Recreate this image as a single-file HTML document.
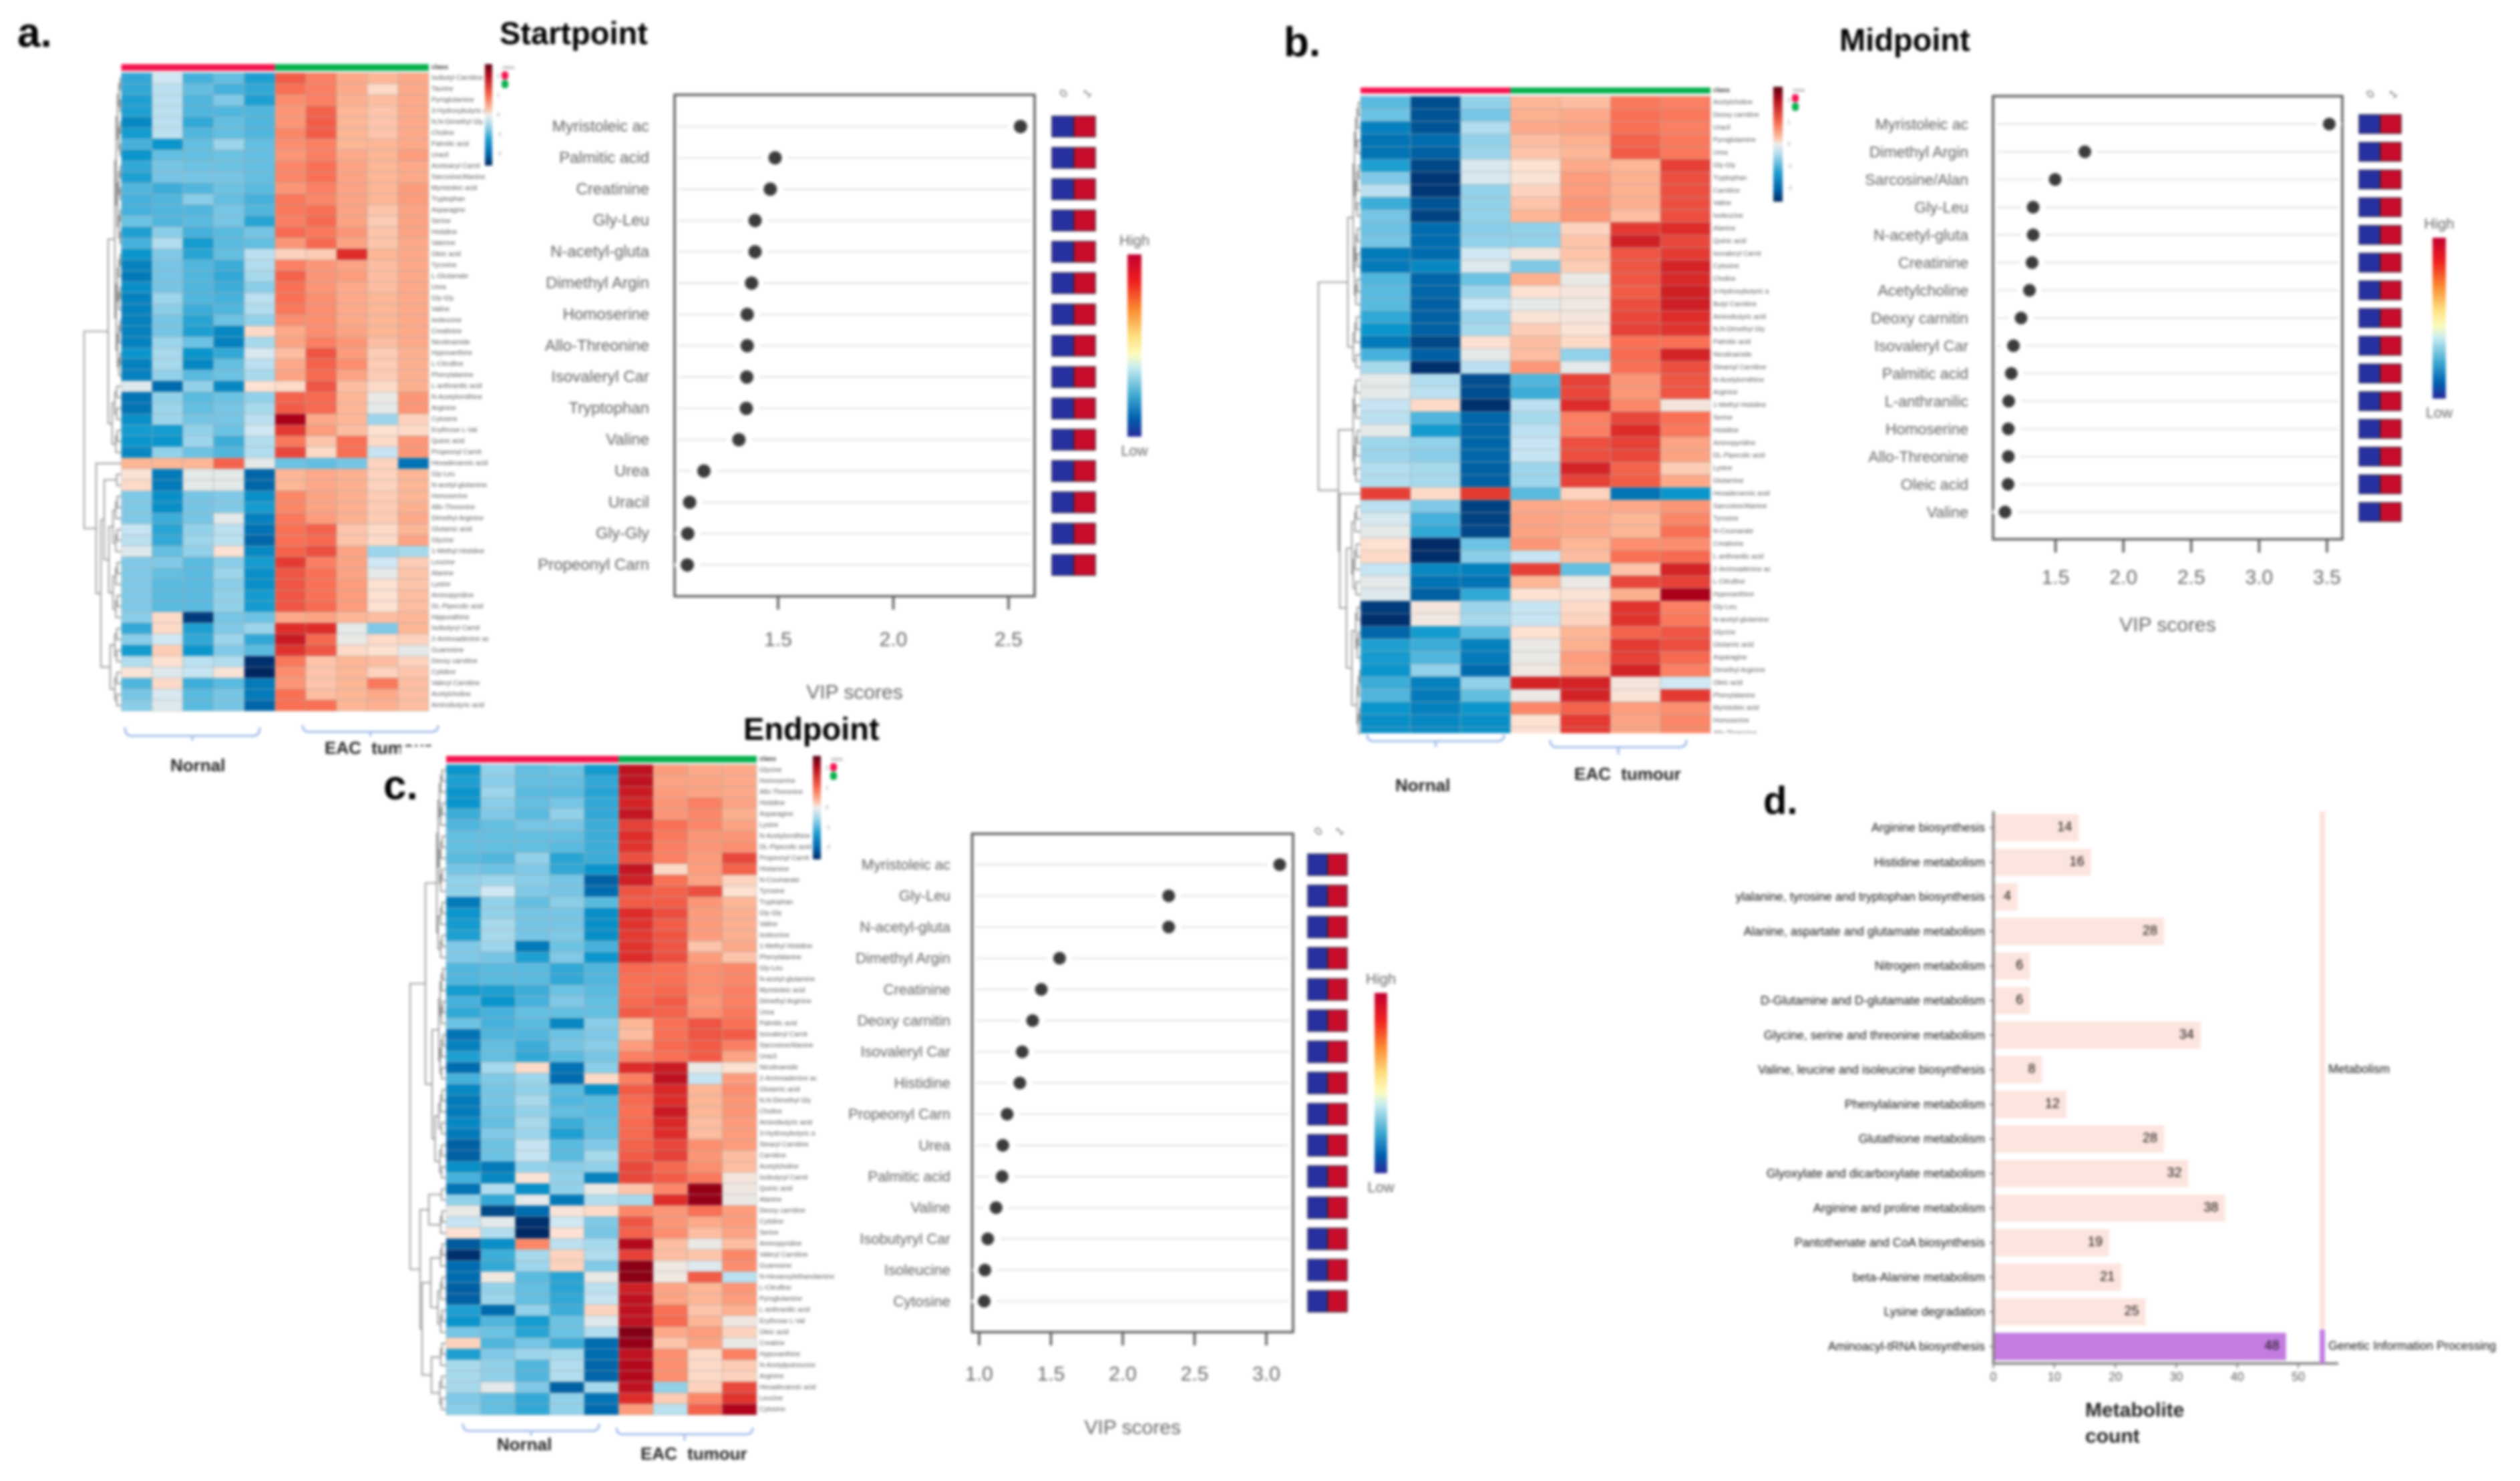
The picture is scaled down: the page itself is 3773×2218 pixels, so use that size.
<!DOCTYPE html>
<html lang="en">
<head>
<meta charset="utf-8">
<title>Metabolite heatmaps, VIP scores and pathway counts</title>
<style>
html,body{margin:0;padding:0;background:#fff;}
svg{display:block;filter:blur(2.1px);font-family:"Liberation Sans",sans-serif;}
.head{font-weight:700;fill:#000;}
</style>
</head>
<body>
<svg id="fig" xmlns="http://www.w3.org/2000/svg" width="3773" height="2218" viewBox="0 0 3773 2218">
<defs>
<linearGradient id="heatGrad" x1="0" y1="0" x2="0" y2="1">
<stop offset="0" stop-color="#5a0010"/><stop offset=".12" stop-color="#b80f20"/><stop offset=".3" stop-color="#f4664a"/><stop offset=".45" stop-color="#fdc5a8"/><stop offset=".5" stop-color="#eeeeee"/><stop offset=".6" stop-color="#a6d6ea"/><stop offset=".75" stop-color="#1e9cce"/><stop offset=".9" stop-color="#0060a8"/><stop offset="1" stop-color="#00285c"/>
</linearGradient>
<linearGradient id="vipGrad" x1="0" y1="0" x2="0" y2="1">
<stop offset="0" stop-color="#c00030"/><stop offset=".15" stop-color="#f02020"/><stop offset=".3" stop-color="#fb8a30"/><stop offset=".45" stop-color="#fde080"/><stop offset=".55" stop-color="#fdfcc0"/><stop offset=".62" stop-color="#c8ecf0"/><stop offset=".78" stop-color="#3aa6d0"/><stop offset=".9" stop-color="#0060b0"/><stop offset="1" stop-color="#2a2a9a"/>
</linearGradient>
<clipPath id="clipB"><rect x="2030" y="140" width="700" height="958"/></clipPath>
</defs>
<rect x="0" y="0" width="3773" height="2218" fill="#fff"/>
<g id="panelA"></g>
<g id="panelB"></g>
<rect x="600" y="1118" width="110" height="24" fill="#fff"/>
<g id="panelC"></g>
<g id="panelD"></g>
<text class="head" x="26" y="70" font-size="62">a.</text>
<text class="head" x="1922" y="84" font-size="62">b.</text>
<text class="head" x="574" y="1197" font-size="62">c.</text>
<text class="head" x="2640" y="1219" font-size="58">d.</text>
<text class="head" x="748" y="66" font-size="47">Startpoint</text>
<text class="head" x="2754" y="76" font-size="47">Midpoint</text>
<text class="head" x="1113" y="1108" font-size="47">Endpoint</text>
</svg>
<script>
/* ---------- Heatmap data (rows of z-scores) ---------- */
const heatRowsA = [
[-2,-.4,-1.8,-1.5,-2.2,2.3,1.8,1.2,1,1.2],[-2,-.6,-1.5,-1.8,-2,2,1.8,1.2,.5,1.2],[-2.2,-.6,-1.7,-1.2,-2.2,1.6,1.8,1.1,.9,1.2],
[-2.2,-.6,-1.7,-1.7,-1.7,1.5,2.2,1,.8,1.2],[-2.6,-.6,-2,-1.5,-1.7,1.5,2.3,1,.8,1.2],[-2.3,-.6,-1.7,-1.5,-1.7,1.7,2.3,1,.8,1.2],
[-1.8,-2.4,-1.5,-.9,-1.5,1.6,1.8,1,1,1.2],[-2.4,-1.5,-1.5,-1.4,-1.5,1.5,1.8,1.2,1,1.4],[-2,-1.3,-1.4,-1.4,-1.5,1.7,2,1.3,1,1.2],
[-2.2,-1.3,-1.3,-1.3,-1.5,1.7,2,1.3,1,1.2],[-1.7,-1.9,-1.7,-1.4,-1.6,1.5,1.8,1.3,1,1.4],[-1.8,-1.7,-1.1,-1.5,-1.8,1.9,1.7,1.3,1,1.4],
[-1.8,-1.7,-1.7,-1.3,-1.7,1.9,2,1.3,.8,1.3],[-1.4,-1.7,-1.6,-1.3,-2.1,1.8,2.1,1.3,.7,1.3],[-2.2,-1.1,-1.8,-1.6,-1.3,2.1,1.9,1.5,.8,1.3],
[-1.8,-.7,-2.3,-1.6,-1.5,1.5,2.1,1.3,.8,1.2],[-2.4,-1.2,-2.1,-1.5,-.6,.6,.7,3,1,1.2],[-2.7,-1.3,-1.7,-1.9,-.7,1.8,1.5,1.3,.9,1.2],
[-2.8,-1.3,-1.7,-2,-.8,2.2,1.5,1.4,.9,1.2],[-2.5,-1.3,-1.7,-1.9,-1.1,2,1.5,1.2,.9,1.2],[-2.7,-.9,-1.7,-1.8,-.6,2,1.6,1.2,1,1.2],
[-2.7,-1.1,-1.9,-1.7,-.7,1.9,1.6,1.2,1,1.2],[-2.7,-1.3,-2.1,-1.4,-1,1.6,1.6,1.2,1,1.2],[-2.7,-1.3,-2.2,-2.6,.5,1.2,1.6,1.3,1,1.2],
[-2.7,-.9,-1.4,-2.7,-.8,1.3,1.8,1.5,.9,1.2],[-2.4,-.8,-2.4,-2,-.3,.9,2.4,1.4,.7,1.1],[-2.7,-.8,-2.6,-1.5,-.6,1.2,2.2,1.6,.7,1.1],
[-2.7,-1,-1.6,-1.4,-.8,1.3,2.1,1.3,.7,1.1],[-.2,-3,-1,-2.6,.4,.5,2.4,.9,.5,1.1],[-2.9,-1,-1.6,-1.4,-1,2.2,2.1,1,0,1.5],
[-2.9,-.9,-1.5,-1.3,-.8,2.3,2.1,1,-.1,1.5],[-2.5,-.9,-1.3,-1.3,-.6,4,1.2,1,-.9,.6],[-2.3,-2.3,-1,-1.4,-.4,2.8,1.4,.9,.4,.5],
[-2.4,-2.4,-.9,-1.9,-.7,1.9,.8,2,.5,1.5],[-2.6,-1,-1.4,-1.7,-.7,2.6,.5,2,-.5,1.5],[1,1,1,2.2,-.1,-1.4,-1.5,-1.3,.6,-2.9],
[.3,-2.8,-.1,-.1,-3.1,1,1.2,1.1,.6,1],[.5,-2.8,-.1,-.1,-3.1,1,1.2,1.1,.6,1],[-1.2,-2.5,-1.3,-1.2,-2.5,1.7,1.3,1.1,.7,1],
[-1.2,-2.5,-1.3,-1.2,-2.3,1.7,1.3,1.1,.7,1.1],[-1.2,-1.9,-1.3,-.1,-2.7,1.9,1.4,1.1,.7,1.2],[-.5,-2.1,-1,-.6,-2.9,2,2.2,.8,.5,1],
[-.6,-2,-.9,-.6,-3.1,2,2.1,.8,.5,1.3],[-.2,-1.5,-1,.4,-2.6,2.2,2.5,1.3,-.9,-.8],[-1.2,-1.2,-1.6,-1.1,-2.3,2.8,1.8,1.3,-.4,.7],
[-1.2,-1.5,-1.6,-.9,-2.5,2.4,2,1.3,-.1,.8],[-1.2,-1.6,-1.6,-1.1,-2.5,2.4,2,1.4,.4,.8],[-1.2,-1.6,-1.6,-1,-2.3,2.4,2,1.4,.4,.9],
[-1.2,-1.6,-1.6,-1,-2.3,2.4,2.1,1.4,.4,.9],[-1.1,.5,-3.8,-1.3,-1.4,1.2,1.3,1,.9,1],[-2,.5,-2.2,-1.2,-.9,3,3,-.1,-1.2,1],
[-1.1,-.4,-2,-.9,-2,3.4,2.1,0,.5,.6],[-2.3,.7,-2.4,-1.2,-1.6,2.9,2.4,.5,.4,-.1],[-.7,.4,-.6,-.7,-4,1.9,.8,1,.9,.6],
[.3,-.2,-.5,.3,-4.4,1.6,.8,1,.6,.8],[-1.7,.5,-1.9,-1.6,-2.8,1.5,.8,1,1.9,.9],[-1.3,-.3,-1.6,-1.3,-2.8,2,.9,1,1.2,.9],
[-1.1,-.2,-1.6,-1.3,-3.1,2,2,1,1.1,.9]
];
const heatRowsB = [
[-1.6,-3.5,-1,1,.9,1.9,1.8],[-1.4,-3.4,-1.3,1.1,1.2,2,1.9],[-2.7,-3.4,-.7,1.2,1.3,2,1.8],[-2.9,-3,-1,.9,1.1,2.2,1.9],
[-2.9,-3.2,-.9,.8,1,2.3,1.9],[-2.2,-3.6,-.3,.4,1.2,1,2.7],[-1.2,-3.9,-.3,.3,1.4,1.1,2.5],[-.6,-3.9,-1,.6,1.4,1.1,2.5],
[-1.9,-3.4,-1,.8,1.5,1.1,2.5],[-1.3,-3.7,-1,1,1.5,.9,2.5],[-1.4,-3,-1.1,-1,.6,2.8,3],[-1.3,-3,-1,-1,.8,3.3,2.6],
[-2.8,-3,-.4,.2,.8,2.4,2.8],[-2.8,-2.6,-.2,-1.2,.7,2.4,3.2],[-1.7,-3.1,-1.4,1.1,0,2.4,3.1],[-1.6,-3.1,-.9,.4,.2,2.3,3.3],
[-1.6,-3.2,-.5,-.1,.1,2.5,3.3],[-2,-3.2,-.9,.3,.2,2.6,3],[-2.4,-3.2,-.8,.7,.3,2.7,2.9],[-2.8,-3.6,.4,.9,.5,2,2],
[-1.8,-3.2,-.1,.9,-1,2.1,3.2],[-.8,-4,-.6,1.5,-.1,2,2.5],[-.1,-.7,-3.5,-1.7,2.7,1.5,2.4],[-.1,-.6,-3.5,-1.9,2.6,1.5,2.4],
[-.5,.5,-4,-.6,3,1.7,.2],[-.6,-1.7,-3.1,-.8,1.8,2.6,2],[-.1,-2.3,-3.1,-.6,1.8,3,1.9],[-.9,-1,-3.1,-.5,2.5,2.7,1.3],
[-.9,-1.1,-3.1,-.5,2.5,2.6,1.3],[-.7,-.8,-3.2,-.9,3.2,2.2,.7],[-.7,-.8,-3.2,-.9,2.7,2.3,1.2],[2.7,.5,2.8,-1.6,.6,-2.9,-2.4],
[-.6,-1.2,-3.7,1.2,1.2,1.2,1.5],[-.3,-1.8,-3.7,1.3,1.2,1,1.7],[-.1,-2,-3.6,1.3,1.2,1,2],[.4,-4.2,-1.4,1.5,1,1.6,1.6],
[.5,-4.1,-1.1,-.5,.9,2,2.1],[-.5,-2.6,-2.7,2.7,-1.5,.8,3.2],[-.1,-2.9,-2.9,1,0,2.6,2.7],[-.2,-3.2,-2,.4,.3,1.1,4],
[-3.8,.2,-.9,-.5,.5,2.9,1.8],[-4,.1,-.8,-.5,.6,2.9,1.9],[-3.1,-2.3,-1.6,.4,1,2.2,2.4],[-2.2,-1.9,-2.7,0,1.1,2.8,2.5],
[-2.3,-1.7,-2.8,0,1.4,2.7,2.1],[-2.4,-1,-3,.1,1.3,3.2,1.8],[-1.9,-2.7,-1,3.2,3.2,.2,-.4],[-1.7,-2.8,-1.5,0,3.2,.3,2.8],
[-2.4,-2.7,-2.4,1.7,2.2,1.4,1.6],[-2.5,-2.6,-2.5,.4,2.8,1.3,1.7],[-2.5,-2.6,-2.5,.4,2.8,1.3,1.7]
];
const heatRowsC = [
[-2.4,-1,-1.5,-1.4,-2.3,3.6,1.4,1.2,1.2],[-2.2,-1.1,-1.5,-1.5,-2,3.6,1.3,1.3,1.2],[-2.4,-.9,-1.6,-1.6,-2.1,3.4,1.4,1.3,1.2],
[-2.4,-1.1,-1.5,-1.3,-2,3.2,1.5,1.8,1.3],[-1.9,-1.2,-1.6,-1,-2,3.5,1.5,1.7,1.1],[-1.7,-1.5,-1.3,-1.3,-1.9,2.7,2,1.7,1.3],
[-1.5,-1.5,-1.5,-1.5,-1.9,3,1.9,1.5,1.5],[-1.5,-1.5,-1.5,-1.6,-1.9,2.9,1.8,1.5,1.6],[-1.6,-1.7,-1,-2.1,-1.9,2.5,1.8,1.4,2.6],
[-1.3,-1.4,-1.2,-2,-2.4,3.5,.5,1.4,2.2],[-1,-.9,-1.1,-1.3,-3.2,3.3,2,1.3,.6],[-1,-.4,-1.2,-1.3,-3,2.4,2.2,2.5,.4],
[-2.8,-1,-1.5,-1.1,-1.6,2.3,2.3,1.5,1],[-2.4,-1,-1.3,-1.3,-2.5,3,2.5,1.4,1.1],[-2.3,-.8,-1.3,-1.3,-2.5,2.9,2.3,1.4,1.1],
[-2.2,-.8,-1.3,-1.2,-2.5,2.8,2.4,1.4,1.1],[-1.2,-.9,-2.8,-1.4,-1.8,2.9,2.4,.8,1.2],[-1.2,-1.3,-2.2,-1.2,-2.4,3,2.5,1.4,.8],
[-1.7,-1.6,-1.6,-2,-1.7,2.1,2,1.6,1.7],[-1.7,-1.6,-1.6,-2,-1.7,2,2,1.6,1.7],[-2.3,-2.2,-1.9,-1.4,-1.6,2,2.1,1.6,1.8],
[-1.8,-2.4,-1.8,-1.2,-1.5,2.1,2.3,1.5,1.8],[-2,-1.8,-1.5,-1.5,-1.5,2.3,2.2,1.6,1.9],[-1.4,-1.8,-1.6,-2.6,-1.1,1,2,2.4,2],
[-2.9,-1.7,-1.7,-1.4,-1.2,.9,2,2.4,2.3],[-2.7,-1.5,-1.9,-1.3,-1.1,1.4,2.1,2.3,1.8],[-2.2,-1.5,-2,-1.6,-1.3,1.8,2,2.3,1.3],
[-3,-.8,.5,-2.9,-1.1,3,3.4,0,.4],[-1.8,-1.2,-.9,-3,.5,1.8,3.6,-.5,1.4],[-2.6,-1.3,-1,-1.6,-2.5,2.3,3.1,1,1.6],
[-2.8,-1.3,-.8,-1.7,-1.6,2.1,3,1,1.5],[-2.8,-1.4,-1,-1.5,-1.6,2,3.4,1,1.5],[-2.6,-1.5,-.8,-1.9,-1.5,2.1,3.1,.9,1.4],
[-2.8,-1.2,-.9,-2.2,-1.5,2.1,3,.9,1.4],[-3.2,-1.4,-.5,-1.6,-1.2,2.2,2.6,1.6,1.4],[-3.2,-1.4,-.5,-1.6,-.8,2.3,2.7,1.5,.9],
[-2.5,-2.8,-1,-1.1,-1,2.6,2.1,1.6,.9],[-1.8,-2.6,.3,-1,-2.7,2.6,2.3,1.9,.2],[-2.9,-.7,-2.5,-1,0,.8,1.7,4.2,.1],
[-1,-2,-.1,-2.8,-.7,-.8,3,4.2,0],[0,-3.6,-3,.3,.5,1.7,1.5,2,1.4],[-.5,-.1,-4,-.4,-1.2,2.4,1.5,1.2,1.4],
[.4,-.7,-4.3,.4,-1.3,2.2,1.6,.9,1.3],[-3.3,-2.5,1.7,-.6,-.8,3.8,.9,0,.9],[-4,-1.9,-.8,.6,-.7,2.7,.9,.8,1.7],
[-3,-2,-.9,.6,-1.2,4.3,.1,-.2,1.6],[-3,.1,-1.6,-2.1,0,4.3,.1,2.3,-.6],[-3.2,-1,-1.5,-2.1,-.6,3.3,1.3,1,1.5],
[-3.2,-.9,-1.5,-2,-.5,3.6,1.3,1,1.4],[-2.2,-3,-1,-1.9,.6,3.6,2,.8,1.1],[-2.4,-1.7,-2.3,-1.4,-.2,3.6,2.1,1,.1],
[-1.3,-1.4,-2.1,-1.4,-.7,4.4,1.2,1.4,.6],[.6,-1.7,-1.3,-1.9,-3,4.2,.8,1.3,0],[-2.2,-1.2,-.9,-.8,-3,3.6,1.6,.5,1.8],
[-.8,-1,-1.7,-.7,-3.1,3.8,1.6,.5,.7],[-.8,-1,-1.7,-.7,-3.1,3.8,1.6,.5,.6],[-.8,-.1,-1.2,-3.2,-.8,3.6,-1,.6,2.6],
[-1.2,-1.5,-2,-1,-2.9,3,.7,1.7,2.9],[-1.1,-1.5,-2,-1,-3,1.4,-.6,2.2,3.9]
];
const heatLabelsA = ["Isobutyl Carnitine","Taurine","Pyroglutamine","3-Hydroxybutyric a","N,N-Dimethyl Gly","Choline","Palmitic acid","Uracil","Acetoacyl Carnit","Sarcosine/Alanine","Myristoleic acid","Tryptophan","Asparagine","Serine","Histidine","Valerine","Oleic acid","Tyrosine","L-Glutamate","Urea","Gly-Gly","Valine","Isoleucine","Creatinine","Nicotinamide","Hypoxanthine","L-Citrulline","Phenylalanine","L-anthranilic acid","N-Acetylornithine","Arginine","Cytosine","Erythrose L-Val","Quinic acid","Propeonyl Carnit","Hexadecanoic acid","Gly-Leu","N-acetyl-glutamine","Homoserine","Allo-Threonine","Dimethyl Arginine","Glutamic acid","Glycine","1-Methyl Histidine","Leucine","Alanine","Lysine","Aminopyridine","DL-Pipecolic acid","Hippurathine","Isobutyryl Carnit","2-Aminoadenine ac","Guanosine","Deoxy carnitine","Cytidine","Valeryl Carnitine","Acetylcholine","Aminobutyric acid"];
const heatLabelsB = ["Acetylcholine","Deoxy carnitine","Uracil","Pyroglutamine","Urea","Gly-Gly","Tryptophan","Carnitine","Valine","Isoleucine","Alanine","Quinic acid","Isovaleryl Carnit","Cytosine","Choline","3-Hydroxybutyric a","Butyl Carnitine","Aminobutyric acid","N,N-Dimethyl Gly","Palmitic acid","Nicotinamide","Stearoyl Carnitine","N-Acetylornithine","Arginine","1-Methyl Histidine","Serine","Histidine","Aminopyridine","DL-Pipecolic acid","Lysine","Glutamine","Hexadecanoic acid","Sarcosine/Alanine","Tyrosine","N-Coumarate","Creatinine","L-anthranilic acid","2-Aminoadenine ac","L-Citrulline","Hypoxanthine","Gly-Leu","N-acetyl-glutamine","Glycine","Glutamic acid","Asparagine","Dimethyl Arginine","Oleic acid","Phenylalanine","Myristoleic acid","Homoserine","Allo-Threonine"];
const heatLabelsC = ["Glycine","Homoserine","Allo-Threonine","Histidine","Asparagine","Lysine","N-Acetylornithine","DL-Pipecolic acid","Propeonyl Carnit","Histamine","N-Coumarate","Tyrosine","Tryptophan","Gly-Gly","Valine","Isoleucine","1-Methyl Histidine","Phenylalanine","Gly-Leu","N-acetyl-glutamine","Myristoleic acid","Dimethyl Arginine","Urea","Palmitic acid","Isovaleryl Carnit","Sarcosine/Alanine","Uracil","Nicotinamide","2-Aminoadenine ac","Glutamic acid","N,N-Dimethyl Gly","Choline","Aminobutyric acid","3-Hydroxybutyric a","Stearyl Carnitine","Carnitine","Acetylcholine","Isobutyryl Carnit","Quinic acid","Alanine","Deoxy carnitine","Cytidine","Serine","Aminopyridine","Valeryl Carnitine","Guanosine","N-Hexanoylethanolamine","L-Citrulline","Pyroglutamine","L-anthranilic acid","Erythrose L-Val","Oleic acid","Creatine","Hypoxanthine","N-Acetylputrescine","Arginine","Hexadecanoic acid","Leucine","Cytosine"];
const heatScaleTicks = ["2","1","0","-1","-2"];

/* ---------- VIP score data ---------- */
const vipCatsA = ["Myristoleic ac","Palmitic acid","Creatinine","Gly-Leu","N-acetyl-gluta","Dimethyl Argin","Homoserine","Allo-Threonine","Isovaleryl Car","Tryptophan","Valine","Urea","Uracil","Gly-Gly","Propeonyl Carn"];
const vipValsA = [2.552,1.487,1.466,1.40,1.40,1.385,1.366,1.366,1.364,1.362,1.33,1.178,1.116,1.108,1.106];
const vipTicksA = [1.5,2.0,2.5];
const vipCatsB = ["Myristoleic ac","Dimethyl Argin","Sarcosine/Alan","Gly-Leu","N-acetyl-gluta","Creatinine","Acetylcholine","Deoxy carnitin","Isovaleryl Car","Palmitic acid","L-anthranilic ","Homoserine","Allo-Threonine","Oleic acid","Valine"];
const vipValsB = [3.517,1.716,1.497,1.335,1.335,1.327,1.308,1.246,1.19,1.174,1.155,1.152,1.152,1.15,1.128];
const vipTicksB = [1.5,2.0,2.5,3.0,3.5];
const vipCatsC = ["Myristoleic ac","Gly-Leu","N-acetyl-gluta","Dimethyl Argin","Creatinine","Deoxy carnitin","Isovaleryl Car","Histidine","Propeonyl Carn","Urea","Palmitic acid","Valine","Isobutyryl Car","Isoleucine","Cytosine"];
const vipValsC = [3.093,2.32,2.32,1.56,1.433,1.372,1.30,1.283,1.195,1.165,1.16,1.118,1.06,1.04,1.035];
const vipTicksC = [1.0,1.5,2.0,2.5,3.0];

/* ---------- Pathway bar data ---------- */
const pathwayCats = ["Arginine biosynthesis","Histidine metabolism","ylalanine, tyrosine and tryptophan biosynthesis","Alanine, aspartate and glutamate metabolism","Nitrogen metabolism","D-Glutamine and D-glutamate metabolism","Glycine, serine and threonine metabolism","Valine, leucine and isoleucine biosynthesis","Phenylalanine metabolism","Glutathione metabolism","Glyoxylate and dicarboxylate metabolism","Arginine and proline metabolism","Pantothenate and CoA biosynthesis","beta-Alanine metabolism","Lysine degradation","Aminoacyl-tRNA biosynthesis"];
const pathwayCounts = [14,16,4,28,6,6,34,8,12,28,32,38,19,21,25,48];
const pathwayGroups = [0,0,0,0,0,0,0,0,0,0,0,0,0,0,0,1];
const pathwayTicks = [0,10,20,30,40,50];

/* ---------- Helpers ---------- */
const NS = "http://www.w3.org/2000/svg";
function mk(parent, tag, attrs, name) {
  const el = document.createElementNS(NS, tag);
  for (const k in attrs) el.setAttribute(k, attrs[k]);
  
  
  parent.appendChild(el);
  return el;
}
function txt(parent, x, y, s, size, anchor, fill, weight, name) {
  const el = mk(parent, 'text', {x: x, y: y, 'font-size': size, 'text-anchor': anchor, fill: fill, 'font-weight': weight, 'dominant-baseline': 'central'}, name);
  el.textContent = s;
  return el;
}
function linear(d0, r0, d1, r1) { return v => r0 + (v - d0) * (r1 - r0) / (d1 - d0); }
const colorStops = [[-4.5,[0,36,92]],[-4,[0,48,110]],[-3,[0,108,176]],[-2.4,[10,150,205]],[-1.7,[80,182,222]],[-1,[146,209,234]],[-.4,[208,232,243]],[0,[235,233,230]],[.4,[253,225,210]],[1,[253,182,150]],[1.5,[252,150,118]],[2,[250,112,84]],[3,[222,44,42]],[4,[170,0,25]],[4.5,[120,0,20]]];
function heatColor(v) {
  for (let i = 1; i < colorStops.length; i++) {
    if (v <= colorStops[i][0]) {
      const a = colorStops[i-1], b = colorStops[i], t = Math.max(0, (v - a[0]) / (b[0] - a[0]));
      return 'rgb(' + a[1].map((c, j) => Math.round(c + (b[1][j] - c) * t)).join(',') + ')';
    }
  }
  return 'rgb(120,0,20)';
}
/* dendrogram: node = [x, childA, childB]; a number = count of consecutive rows */
function dendro(g, node, left, rowY, state, parentX) {
  let cA, cB, x;
  if (typeof node === 'number') {
    if (node === 1) { const y = rowY(state.i + .5); state.i++; return {x: left, y: y}; }
    const n1 = Math.ceil(node / 2);
    x = left - Math.min(left - parentX - 2, 4 + node * 1.4);
    cA = dendro(g, n1, left, rowY, state, x);
    cB = dendro(g, node - n1, left, rowY, state, x);
  } else {
    x = node[0];
    cA = dendro(g, node[1], left, rowY, state, x);
    cB = dendro(g, node[2], left, rowY, state, x);
  }
  mk(g, 'path', {d: 'M' + cA.x + ' ' + cA.y + 'H' + x + 'V' + cB.y + 'H' + cB.x, fill: 'none', stroke: '#8a8a8a', 'stroke-width': 1.8}, 'dendrogram-branch');
  return {x: x, y: (cA.y + cB.y) / 2};
}
function brace(g, x0, x1, top, line, tip, name) {
  const mid = (x0 + x1) / 2;
  mk(g, 'path', {d: 'M' + x0 + ' ' + top + 'Q' + x0 + ' ' + line + ' ' + (x0 + 10) + ' ' + line + 'H' + (x1 - 10) + 'Q' + x1 + ' ' + line + ' ' + x1 + ' ' + top + 'M' + mid + ' ' + line + 'V' + tip, fill: 'none', stroke: '#9db9ea', 'stroke-width': 3}, name);
}
function heatmap(g, o, rows, labels, tree) {
  const nCols = rows[0].length, cw = (o.x1 - o.x0) / nCols;
  const splitX = o.x0 + o.normalCols * cw;
  const colX = linear(0, o.x0, nCols, o.x1);
  const rowY = linear(0, o.y0, 1, o.y0 + o.rowH);
  const hg = mk(g, 'g', o.clip ? {'clip-path': 'url(#' + o.clip + ')'} : {}, 'heatmap-body');
  rows.forEach((row, r) => {
    row.forEach((v, c) => {
      const cell = mk(hg, 'rect', {x: colX(c), y: rowY(r), width: cw, height: o.rowH, fill: heatColor(v), stroke: '#a9a9a9', 'stroke-width': .8, 'stroke-opacity': .75}, 'heatmap-cell');
    });
    txt(hg, o.x1 + 4, rowY(r + .5), labels[r], o.labelSize, 'start', '#555', 400, 'heatmap-row-label');
  });
  mk(g, 'rect', {x: o.x0, y: o.barY, width: splitX - o.x0, height: o.barH, fill: '#f5134e'}, 'class-bar-normal');
  mk(g, 'rect', {x: splitX, y: o.barY, width: o.x1 - splitX, height: o.barH, fill: '#05b04c'}, 'class-bar-tumour');
  txt(g, o.x1 + 4, o.barY + o.barH / 2, 'class', o.labelSize, 'start', '#333', 700, 'class-bar-label');
  const dg = mk(g, 'g', {}, 'dendrogram');
  dendro(dg, tree, o.x0, rowY, {i: 0}, tree[0]);
  /* colour scale + class legend */
  mk(g, 'rect', {x: o.cbX, y: o.cbY, width: o.cbW, height: o.cbH, fill: 'url(#heatGrad)'}, 'heatmap-colorbar');
  heatScaleTicks.forEach((t, i) => {
    txt(g, o.cbX + o.cbW + 7, o.cbY + o.cbH * (.12 + i * .19), t, 8, 'start', '#888', 400, 'colorbar-tick');
  });
  txt(g, o.cbX + o.cbW + 15, o.cbY + 5, 'class', 8, 'start', '#777', 400, 'class-legend-title');
  mk(g, 'rect', {x: o.cbX + o.cbW + 14, y: o.cbY + 11, width: 10, height: 12, rx: 4, fill: '#f5134e'}, 'class-legend-normal');
  mk(g, 'rect', {x: o.cbX + o.cbW + 14, y: o.cbY + 24, width: 10, height: 12, rx: 4, fill: '#05b04c'}, 'class-legend-tumour');
  brace(g, o.b1[0], o.b1[1], o.b1[2], o.b1[3], o.b1[4], 'brace-normal');
  brace(g, o.b2[0], o.b2[1], o.b2[2], o.b2[3], o.b2[4], 'brace-tumour');
  txt(g, o.nLab[0], o.nLab[1], 'Nornal', 26, 'start', '#222', 700, 'group-label-normal');
  const eac = txt(g, o.eLab[0], o.eLab[1], 'EAC tumour', 26, 'start', '#222', 700, 'group-label-tumour');
  eac.setAttribute('word-spacing', '8');
}
function vipPlot(g, o, cats, vals, ticks) {
  const x = linear(o.d0, o.r0, o.d1, o.r1);
  const y = linear(0, o.rowY0, 1, o.rowY0 + o.rowStep);
  mk(g, 'rect', {x: o.left, y: o.top, width: o.right - o.left, height: o.bottom - o.top, fill: '#fff', stroke: '#5a5a5a', 'stroke-width': 3.5}, 'plot-frame');
  cats.forEach((c, i) => {
    mk(g, 'line', {x1: o.left + 6, x2: o.right - 6, y1: y(i), y2: y(i), stroke: '#e2e2e2', 'stroke-width': 2.4}, 'vip-guide-line');
    mk(g, 'rect', {x: x(vals[i]) - o.r - 9, y: y(i) - 3, width: 2 * o.r + 18, height: 6, fill: '#fff'}, 'vip-dot-halo');
    mk(g, 'circle', {cx: x(vals[i]), cy: y(i), r: o.r, fill: '#3b3b3b'}, 'vip-dot');
    txt(g, o.labRight, y(i), c, o.labSize, 'end', '#5e5e5e', 400, 'vip-category-label');
    mk(g, 'rect', {x: o.sq0, y: y(i) - o.sqH / 2, width: o.sqW, height: o.sqH, fill: '#2730a0', stroke: '#2b2b50', 'stroke-width': 1.5}, 'class-0-square');
    mk(g, 'rect', {x: o.sq0 + o.sqW + 1, y: y(i) - o.sqH / 2, width: o.sqW, height: o.sqH, fill: '#c80c2c', stroke: '#4a2030', 'stroke-width': 1.5}, 'class-1-square');
  });
  ticks.forEach(t => {
    mk(g, 'line', {x1: x(t), x2: x(t), y1: o.bottom, y2: o.bottom + 20, stroke: '#5a5a5a', 'stroke-width': 3.5}, 'x-axis-tick');
    txt(g, x(t), o.tickY, t.toFixed(1), 30, 'middle', '#666', 400, 'x-axis-tick-label');
  });
  txt(g, (o.left + o.right) / 2, o.titleY, 'VIP scores', 30, 'middle', '#666', 400, 'x-axis-title');
  const l0 = txt(g, o.sq0 + o.sqW * .55, o.sqLabY, '0', 17, 'middle', '#666', 400, 'class-0-label');
  l0.setAttribute('transform', 'rotate(-45 ' + (o.sq0 + o.sqW * .55) + ' ' + o.sqLabY + ')');
  const l1 = txt(g, o.sq0 + o.sqW * 1.65, o.sqLabY, '1', 17, 'middle', '#666', 400, 'class-1-label');
  l1.setAttribute('transform', 'rotate(-45 ' + (o.sq0 + o.sqW * 1.65) + ' ' + o.sqLabY + ')');
  mk(g, 'rect', {x: o.csX, y: o.csY, width: o.csW, height: o.csH, fill: 'url(#vipGrad)'}, 'vip-color-scale');
  txt(g, o.csX + o.csW / 2, o.csY - 21, 'High', 22, 'middle', '#666', 400, 'vip-scale-high');
  txt(g, o.csX + o.csW / 2, o.csY + o.csH + 21, 'Low', 22, 'middle', '#666', 400, 'vip-scale-low');
}

/* ---------- Panels ---------- */
const gA = document.getElementById('panelA'), gB = document.getElementById('panelB'), gC = document.getElementById('panelC'), gD = document.getElementById('panelD');

heatmap(gA, {x0:181.6,x1:642,y0:109,rowH:16.48,normalCols:5,barY:96,barH:10,labelSize:10,cbX:726,cbY:96,cbW:11,cbH:152,
  b1:[187,389,1089,1102,1109], b2:[453,656,1086,1096,1103], nLab:[255,1146], eLab:[486,1120]}, heatRowsA, heatLabelsA,
  [126,[162,[172,16,12],7],[144,1,[151,[156,2,[163,6,6]],[165,4,4]]]]);
heatmap(gB, {x0:2037,x1:2561,y0:144,rowH:18.9,normalCols:3,barY:131,barH:9,labelSize:10,clip:'clipB',cbX:2655,cbY:130,cbW:14,cbH:172,
  b1:[2047,2252,1100,1110,1119], b2:[2321,2525,1108,1119,1130], nLab:[2089,1176], eLab:[2357,1159]}, heatRowsB, heatLabelsB,
  [1974,[2018,[2026,10,7],5],[2004,[2026,4,5],[2006,1,[2016,[2024,3,5],[2024,[2030,2,3],[2032,3,3]]]]]]);
heatmap(gC, {x0:668,x1:1133,y0:1145,rowH:16.51,normalCols:5,barY:1132,barH:10,labelSize:10,cbX:1217,cbY:1132,cbW:12,cbH:155,
  b1:[693,897,2132,2143,2150], b2:[923,1127,2138,2148,2158], nLab:[744,2163], eLab:[959,2177]}, heatRowsC, heatLabelsC,
  [614,[637,[654,12,6],[647,[657,6,5],9]],[629,[642,2,3],[632,[645,3,6],[646,3,4]]]]);

vipPlot(gA, {d0:1.5,r0:1165,d1:2.5,r1:1510,left:1010,right:1549,top:142,bottom:893,rowY0:189.5,rowStep:46.9,r:10,labRight:972,labSize:24,
  tickY:958,titleY:1037,sq0:1575,sqW:32,sqH:31,sqLabY:140,csX:1688,csY:381,csW:21,csH:273}, vipCatsA, vipValsA, vipTicksA);
vipPlot(gB, {d0:1.5,r0:3077.6,d1:3.5,r1:3484,left:2984,right:3507,top:144,bottom:807.6,rowY0:185.8,rowStep:41.5,r:9.5,labRight:2947,labSize:23,
  tickY:865,titleY:936,sq0:3532,sqW:31,sqH:28,sqLabY:141,csX:3642,csY:356,csW:20,csH:241}, vipCatsB, vipValsB, vipTicksB);
vipPlot(gC, {d0:1.0,r0:1466,d1:3.0,r1:1896,left:1455.5,right:1936,top:1248.7,bottom:1995,rowY0:1295,rowStep:46.7,r:9.5,labRight:1423,labSize:22,
  tickY:2058,titleY:2138,sq0:1958,sqW:29,sqH:32,sqLabY:1245,csX:2058,csY:1487,csW:19,csH:270}, vipCatsC, vipValsC, vipTicksC);

/* panel d: pathway bars */
const barX = linear(0, 2984.5, 50, 3441);
const barY = linear(0, 1239.5, 1, 1291.3);
const groupFill = ['#fde5df', '#c37ce0'];
pathwayCats.forEach((c, i) => {
  mk(gD, 'rect', {x: barX(0), y: barY(i) - 20.5, width: barX(pathwayCounts[i]) - barX(0), height: 41, fill: groupFill[pathwayGroups[i]]}, 'pathway-bar');
  txt(gD, barX(pathwayCounts[i]) - 10, barY(i) - 1, String(pathwayCounts[i]), 20, 'end', '#111', 400, 'pathway-bar-value');
  txt(gD, 2972, barY(i), c, 18, 'end', '#111', 400, 'pathway-label');
  mk(gD, 'line', {x1: 2979, x2: 2984, y1: barY(i), y2: barY(i), stroke: '#777', 'stroke-width': 2}, 'pathway-tick');
});
mk(gD, 'line', {x1: 2984.5, x2: 2984.5, y1: 1215, y2: 2042, stroke: '#7a7a7a', 'stroke-width': 3.5}, 'y-axis-line');
mk(gD, 'line', {x1: 2983, x2: 3501, y1: 2042, y2: 2042, stroke: '#7a7a7a', 'stroke-width': 3.5}, 'x-axis-line');
pathwayTicks.forEach(t => {
  mk(gD, 'line', {x1: barX(t), x2: barX(t), y1: 2042, y2: 2049, stroke: '#7a7a7a', 'stroke-width': 2}, 'x-axis-tick');
  txt(gD, barX(t), 2062, String(t), 18, 'middle', '#555', 400, 'x-axis-tick-label');
});
mk(gD, 'rect', {x: 3473, y: 1215, width: 8, height: 774, fill: '#fde0d8'}, 'group-strip-metabolism');
mk(gD, 'rect', {x: 3473, y: 1991, width: 8, height: 51, fill: '#c37ce0'}, 'group-strip-genetic');
txt(gD, 3486, 1601, 'Metabolism', 18, 'start', '#111', 400, 'group-label-metabolism');
txt(gD, 3486, 2015.6, 'Genetic Information Processing', 18, 'start', '#111', 400, 'group-label-genetic');
txt(gD, 3122, 2112, 'Metabolite', 30, 'start', '#222', 700, 'x-axis-title');
txt(gD, 3122, 2151, 'count', 30, 'start', '#222', 700, 'x-axis-title');
</script>
</body>
</html>
